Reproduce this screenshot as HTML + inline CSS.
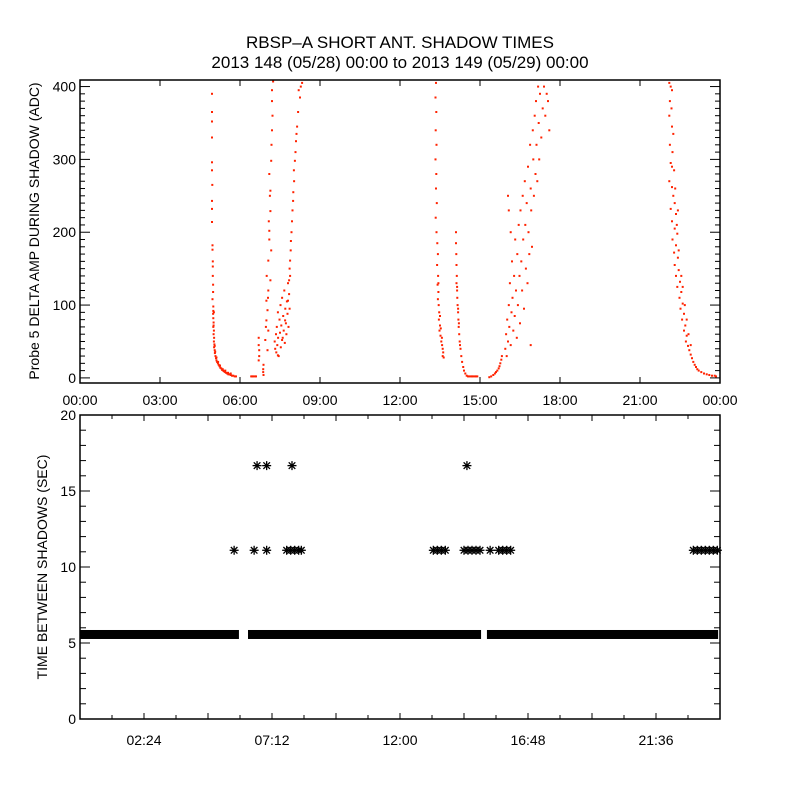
<!DOCTYPE html>
<html><head><meta charset="utf-8">
<style>
html,body{margin:0;padding:0;background:#fff;}
svg{display:block;font-family:"Liberation Sans",sans-serif;}
text{fill:#000;}
</style></head>
<body>
<svg id="chart" width="800" height="800" viewBox="0 0 800 800" xmlns="http://www.w3.org/2000/svg">
<rect x="0" y="0" width="800" height="800" fill="#fff"/>
<text x="400" y="48" font-size="17" text-anchor="middle">RBSP–A SHORT ANT. SHADOW TIMES</text>
<text x="400" y="68" font-size="17" text-anchor="middle">2013 148 (05/28) 00:00 to 2013 149 (05/29) 00:00</text>
<text transform="translate(39,231) rotate(-90)" font-size="14" text-anchor="middle">Probe 5 DELTA AMP DURING SHADOW (ADC)</text>
<text transform="translate(47,567) rotate(-90)" font-size="14" text-anchor="middle">TIME BETWEEN SHADOWS (SEC)</text>
<g id="topPanel"></g>
<g id="botPanel"></g>
</svg>
<script>
// ---- data ----
const topXTickHours = [0,3,6,9,12,15,18,21,24];
const topXTickLabels = ["00:00","03:00","06:00","09:00","12:00","15:00","18:00","21:00","00:00"];
const topYTicks = [0,100,200,300,400];
const botYTicks = [0,5,10,15,20];
const botXTickHours = [2.4,7.2,12,16.8,21.6];
const botXTickLabels = ["02:24","07:12","12:00","16:48","21:36"];

const passA = [[4.95,390],[4.95,365],[4.95,352],[4.95,330],[4.95,296],[4.95,285],[4.96,265],[4.95,243],[4.95,232],[4.95,214],[4.97,182],[4.97,176],[4.98,160],[4.98,153],[4.98,140],[4.99,128],[4.99,118],[4.97,108],[5.0,98],[5.0,92],[4.99,88],[5.0,82],[5.01,76],[5.0,70],[5.02,65],[5.01,60],[5.03,55],[5.02,50],[5.04,46],[5.03,42],[5.05,38],[5.06,34],[5.08,30],[5.1,27],[5.12,24],[5.14,22],[5.17,20],[5.2,18],[5.23,16],[5.26,14],[5.3,13],[5.33,11],[5.37,10],[5.4,9],[5.44,8],[5.48,7],[5.52,6],[5.56,5],[5.6,5],[5.65,4],[5.7,3],[5.75,3],[5.8,2],[5.85,2],[5.05,44],[5.07,36],[5.12,28],[5.18,22],[5.25,17],[5.35,12],[5.45,10],[5.55,7],[5.65,6],[5.02,90],[5.01,72]];
const passB = [[6.42,2],[6.46,2],[6.5,2],[6.55,2],[6.6,2],[6.7,55],[6.7,45],[6.72,38],[6.72,30],[6.7,24],[6.87,12],[6.87,8],[6.88,4],[6.88,18],
[7.24,407],[7.2,380],[7.2,340],[7.17,298],[7.14,257],[7.14,229],[7.1,202],[7.17,175],[7.06,161],[7.14,134],[7.06,120],[6.99,106],[7.03,93],[6.99,79],[7.06,65],[6.95,52],[7.03,38],[7.12,250],[7.18,320],[7.1,280],[7.22,360],[7.08,215],[7.0,140],[7.05,110],[6.97,70],[7.1,190],[7.2,395],
[7.3,50],[7.32,40],[7.35,60],[7.36,35],[7.38,70],[7.4,45],[7.42,90],[7.43,55],[7.45,30],[7.48,80],[7.5,62],[7.52,100],[7.53,42],[7.55,72],[7.58,110],[7.6,55],[7.62,85],[7.64,65],[7.66,120],[7.68,48],[7.7,95],[7.72,75],[7.74,60],[7.76,105],[7.78,88],[7.8,130],[7.82,70],[7.84,115],[7.86,95],[7.88,140],
[8.33,405],[8.25,385],[8.18,365],[8.14,345],[8.1,325],[8.06,298],[8.03,270],[7.99,243],[7.95,215],[7.91,188],[7.88,161],[7.84,134],[7.8,106],[7.69,79],[7.58,52],[7.42,31],[8.2,395],[8.08,310],[8.0,255],[7.93,200],[8.12,335],[7.97,230],[7.9,175],[8.28,400],[8.02,285],[7.86,150]];
const passC = [[13.35,405],[13.33,385],[13.36,365],[13.34,340],[13.37,320],[13.33,300],[13.36,280],[13.35,260],[13.38,240],[13.34,220],[13.37,200],[13.4,185],[13.42,170],[13.39,155],[13.43,140],[13.41,128],[13.44,118],[13.42,108],[13.45,100],[13.47,90],[13.46,80],[13.5,72],[13.48,65],[13.52,58],[13.55,50],[13.58,45],[13.6,40],[13.62,35],[13.57,55],[13.53,68],[13.6,30],[13.64,28],[13.5,85],[13.44,130],
[14.1,200],[14.1,185],[14.11,170],[14.12,155],[14.13,140],[14.12,130],[14.14,120],[14.15,110],[14.16,100],[14.18,90],[14.19,80],[14.2,70],[14.22,60],[14.24,50],[14.27,40],[14.3,30],[14.33,22],[14.37,15],[14.4,10],[14.45,6],[14.5,3],[14.55,2],[14.14,125],[14.18,95],[14.21,75],[14.25,45],
[14.6,2],[14.65,2],[14.7,2],[14.75,2],[14.8,2],[14.85,2],[14.9,2],
[15.35,1],[15.42,2],[15.5,4],[15.56,6],[15.6,8],[15.65,10],[15.7,13],[15.73,16],[15.76,20],[15.8,25],[15.82,30]];
const passC2 = [[15.95,40],[15.98,60],[16.0,30],[16.02,80],[16.05,50],[16.08,100],[16.1,70],[16.12,130],[16.15,45],[16.18,90],[16.2,160],[16.22,110],[16.25,65],[16.28,140],[16.3,85],[16.32,190],[16.35,120],[16.38,55],[16.4,170],[16.42,100],[16.45,210],[16.48,140],[16.5,75],[16.52,230],[16.55,160],[16.58,120],[16.6,250],[16.62,190],[16.65,95],[16.68,270],[16.7,210],[16.72,150],[16.75,240],[16.78,130],[16.8,290],[16.82,200],[16.85,170],[16.88,320],[16.9,260],[16.92,230],[16.95,180],[16.98,340],[17.0,300],[17.02,250],[17.05,360],[17.08,280],[17.1,380],[17.12,320],[17.15,270],[17.18,400],[17.2,350],[17.22,300],[17.25,390],[17.3,330],[17.35,370],[17.4,400],[17.45,360],[17.5,390],[16.05,250],[16.08,230],[16.15,200],[16.9,45],[17.6,340],[17.55,380]];
const passD = [[22.1,405],[22.15,400],[22.2,395],[22.12,380],[22.18,370],[22.1,360],[22.2,345],[22.25,335],[22.12,320],[22.22,310],[22.15,295],[22.28,285],[22.1,270],[22.2,262],[22.25,250],[22.3,240],[22.15,232],[22.35,225],[22.2,215],[22.3,205],[22.4,198],[22.22,190],[22.35,182],[22.28,172],[22.42,165],[22.3,155],[22.45,148],[22.35,140],[22.5,132],[22.4,125],[22.55,118],[22.48,110],[22.6,102],[22.52,95],[22.65,88],[22.58,80],[22.7,72],[22.65,65],[22.75,58],[22.72,50],[22.8,44],[22.85,38],[22.9,32],[22.95,27],[23.0,22],[23.05,18],[23.1,15],[23.15,12],[23.2,10],[23.3,8],[23.4,6],[23.5,5],[23.6,4],[23.7,3],[23.8,3],[23.85,2],[22.38,210],[22.45,175],[22.55,140],[22.6,125],[22.68,100],[22.75,80],[22.82,60],[22.9,45],[22.2,290],[22.32,260],[22.42,230]];

const bandValue = 5.56;
const bandStarts = [0, 6.3, 15.26];
const bandEnds = [5.96, 15.04, 23.93];
const gap11Hours = [5.78,6.53,7.0,7.75,7.9,8.05,8.2,8.3,13.25,13.4,13.55,13.7,14.4,14.55,14.7,14.85,15.0,15.38,15.7,15.85,16.0,16.15,23.0,23.15,23.3,23.45,23.6,23.75,23.9];
const gap11Value = 11.1;
const gap17Hours = [6.64,7.0,7.95,14.51];
const gap17Value = 16.67;

// ---- axes ----
const NS="http://www.w3.org/2000/svg";
const L=80,R=720;
const T1=80,B1=383,Y1min=-7,Y1max=409;
const T2=415,B2=719,Y2min=0,Y2max=20;
const xs=h=>L+(h/24)*(R-L);
const y1=v=>B1-(v-Y1min)/(Y1max-Y1min)*(B1-T1);
const y2=v=>B2-(v-Y2min)/(Y2max-Y2min)*(B2-T2);
function mk(tag,attrs,parent){const e=document.createElementNS(NS,tag);for(const k in attrs)e.setAttribute(k,attrs[k]);parent.appendChild(e);return e;}
const topG=document.getElementById('topPanel'),botG=document.getElementById('botPanel');

// top panel points
const ptsG=mk('g',{},topG);


[passA,passB,passC,passC2,passD].forEach(arr=>arr.forEach(p=>{
  const r=mk('rect',{x:(xs(p[0])-1).toFixed(1),y:(y1(p[1])-1).toFixed(1),width:2,height:2,fill:'#ff2200'},ptsG);
  
  
}));
const f1=mk('rect',{x:L,y:T1,width:R-L,height:B1-T1,fill:'none',stroke:'#000','stroke-width':1.5},topG);


for(let v=0;v<=400;v+=10){const y=y1(v),len=(v%100===0)?10:5;
  mk('line',{x1:L,x2:L+len,y1:y,y2:y,stroke:'#000'},topG);
  mk('line',{x1:R,x2:R-len,y1:y,y2:y,stroke:'#000'},topG);}
topYTicks.forEach(v=>{const t=mk('text',{x:L-4,y:y1(v)+5,'font-size':14,'text-anchor':'end'},topG);t.textContent=v;
  
  });
topXTickHours.forEach((h,i)=>{const x=xs(h);
  mk('line',{x1:x,x2:x,y1:T1,y2:T1+6,stroke:'#000'},topG);
  mk('line',{x1:x,x2:x,y1:B1,y2:B1-6,stroke:'#000'},topG);
  const t=mk('text',{x:x,y:B1+22,'font-size':14,'text-anchor':'middle'},topG);t.textContent=topXTickLabels[i];
  
  });

// bottom panel
bandStarts.forEach((s,i)=>{const r=mk('rect',{x:xs(s),y:y2(bandValue)-4.5,width:xs(bandEnds[i])-xs(s),height:9,fill:'#000'},botG);
  
  });
function star(h,v){const cx=xs(h),cy=y2(v),s=4.5,d=3.3;
  const g=mk('g',{stroke:'#000','stroke-width':1.3},botG);
  
  
  mk('line',{x1:cx-s,x2:cx+s,y1:cy,y2:cy},g);
  mk('line',{x1:cx,x2:cx,y1:cy-s,y2:cy+s},g);
  mk('line',{x1:cx-d,x2:cx+d,y1:cy-d,y2:cy+d},g);
  mk('line',{x1:cx-d,x2:cx+d,y1:cy+d,y2:cy-d},g);}
gap11Hours.forEach(h=>star(h,gap11Value));
gap17Hours.forEach(h=>star(h,gap17Value));
const f2=mk('rect',{x:L,y:T2,width:R-L,height:B2-T2,fill:'none',stroke:'#000','stroke-width':1.5},botG);


for(let v=0;v<=20;v+=1){const y=y2(v),len=(v%5===0)?10:6;
  mk('line',{x1:L,x2:L+len,y1:y,y2:y,stroke:'#000'},botG);
  mk('line',{x1:R,x2:R-len,y1:y,y2:y,stroke:'#000'},botG);}
botYTicks.forEach(v=>{const t=mk('text',{x:L-4,y:y2(v)+5,'font-size':14,'text-anchor':'end'},botG);t.textContent=v;
  
  });
for(let k=1;k<20;k++){const h=k*1.2,x=xs(h),len=(k%2===0)?6:4;
  mk('line',{x1:x,x2:x,y1:T2,y2:T2+len,stroke:'#000'},botG);
  mk('line',{x1:x,x2:x,y1:B2,y2:B2-len,stroke:'#000'},botG);}
botXTickHours.forEach((h,i)=>{const t=mk('text',{x:xs(h),y:B2+26,'font-size':14,'text-anchor':'middle'},botG);t.textContent=botXTickLabels[i];
  
  });
</script>
</body></html>
